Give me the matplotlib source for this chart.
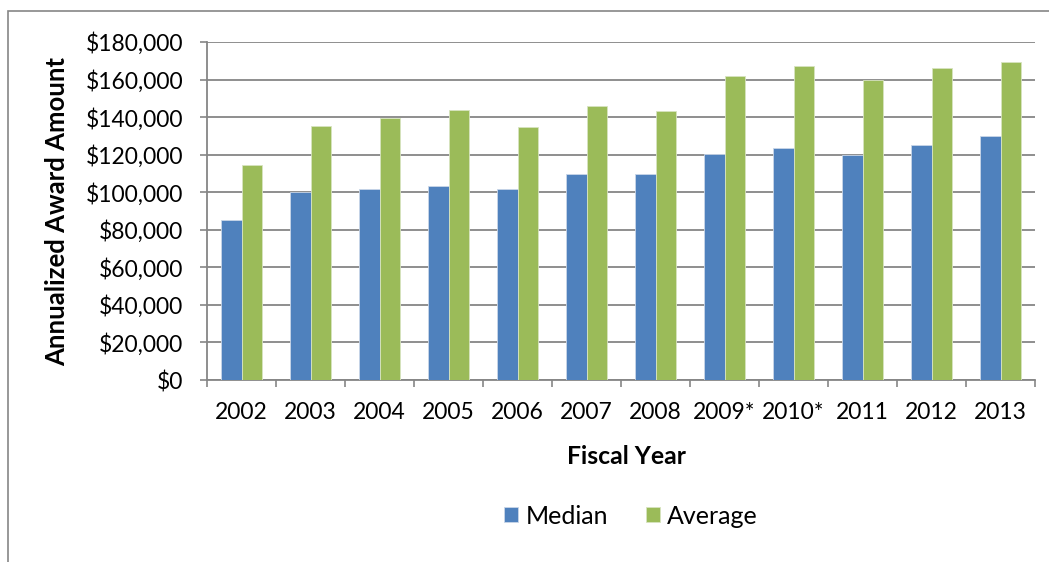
import matplotlib
matplotlib.use("Agg")
import matplotlib.pyplot as plt
from matplotlib.patches import Rectangle
from matplotlib.ticker import FuncFormatter, FixedLocator
import numpy as np

years = ["2002", "2003", "2004", "2005", "2006", "2007", "2008",
         "2009*", "2010*", "2011", "2012", "2013"]
median = [85300, 100000, 101600, 103500, 101600, 109800, 109800,
          120400, 123800, 120000, 125000, 129800]
average = [114500, 135300, 139500, 143800, 134600, 146100, 143400,
           161900, 167400, 159600, 166000, 169300]

BLUE = "#4F81BD"
GREEN = "#9BBB59"
GRID = "#868686"

plt.rcParams["font.family"] = ["Lato", "DejaVu Sans"]
FS = 16.5

W, H = 1049, 562
fig = plt.figure(figsize=(W / 100, H / 100), dpi=100)

# chart border
fig.patches.append(Rectangle((8 / W, -0.1), 1.2, 1.1 - 11 / H,
                             transform=fig.transFigure, fill=False,
                             edgecolor=GRID, linewidth=1.2))

ax = fig.add_axes([207 / W, 1 - 380 / H, (1035 - 207) / W, (380 - 42) / H])

x = np.arange(len(years))
bw = 0.29
ax.bar(x - bw / 2, median, bw, color=BLUE, edgecolor="#C9D6E8",
       linewidth=0.6, label="Median", zorder=3)
ax.bar(x + bw / 2, average, bw, color=GREEN, edgecolor="#D7E4C0",
       linewidth=0.6, label="Average", zorder=3)

ax.set_xlim(-0.5, len(years) - 0.5)
ax.set_ylim(0, 180000)
ax.set_yticks(np.arange(0, 180001, 20000))
ax.yaxis.set_major_formatter(FuncFormatter(lambda v, p: f"${v:,.0f}"))
ax.grid(axis="y", color=GRID, linewidth=1.3, zorder=0)
ax.set_axisbelow(True)

ax.set_xticks(x)
ax.set_xticklabels(years)
ax.xaxis.set_minor_locator(FixedLocator(np.arange(-0.5, len(years), 1.0)))
ax.tick_params(axis="x", which="major", length=0, pad=16, labelsize=FS)
ax.tick_params(axis="x", which="minor", length=5, width=1.2, color=GRID,
               direction="out")
ax.tick_params(axis="y", length=5, width=1.2, color=GRID, pad=12,
               labelsize=FS, direction="out")

for s in ("top", "right"):
    ax.spines[s].set_visible(False)
for s in ("left", "bottom"):
    ax.spines[s].set_color(GRID)
    ax.spines[s].set_linewidth(1.3)

fig.text(626 / W, 1 - 456 / H, "Fiscal Year", ha="center", va="center",
         fontsize=17.8, fontweight="bold")
fig.text(57 / W, 1 - 211 / H, "Annualized Award Amount", ha="center",
         va="center", rotation=90, fontsize=18.5, fontweight="bold")

fig.legend(loc="center", bbox_to_anchor=(631 / W, 1 - 516 / H), ncol=2,
           frameon=False, fontsize=18, handlelength=0.56, handleheight=0.56,
           handletextpad=0.3, columnspacing=1.5, borderaxespad=0)

fig.savefig("out.png", dpi=100)
